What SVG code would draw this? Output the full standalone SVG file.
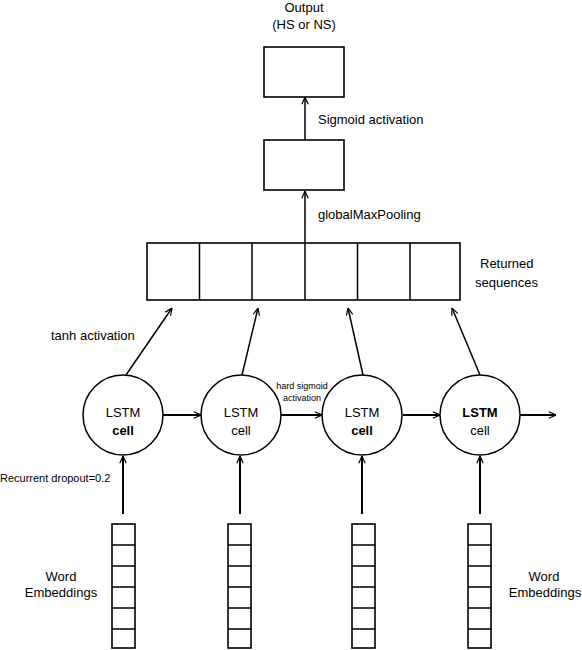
<svg xmlns="http://www.w3.org/2000/svg" width="582" height="650" viewBox="0 0 582 650">
<defs>
<marker id="ah" viewBox="0 0 10 10" refX="10" refY="5" markerWidth="8" markerHeight="8" markerUnits="userSpaceOnUse" orient="auto">
<path d="M1,1 L10,5 L1,9" fill="none" stroke="#000" stroke-width="1.5"/>
</marker>
</defs>
<style>
text{font-family:"Liberation Sans",Arial,sans-serif;font-size:13px;fill:#000}
.c{text-anchor:middle}
.box{fill:#fff;stroke:#000;stroke-width:1.6}
.cell{fill:#fff;stroke:#000;stroke-width:1.5}
.ln{stroke:#000;stroke-width:1.5;fill:none}
.thick{stroke:#000;stroke-width:2;fill:none}
</style>
<rect width="582" height="650" fill="#fff"/>

<g id="connectors">
<line class="ln" x1="305" y1="243" x2="305" y2="191" marker-end="url(#ah)"/>
<line class="ln" x1="305" y1="140" x2="305" y2="97" marker-end="url(#ah)"/>
<line class="ln" x1="126" y1="375" x2="172" y2="308" marker-end="url(#ah)"/>
<line class="ln" x1="242" y1="375" x2="258" y2="308" marker-end="url(#ah)"/>
<line class="ln" x1="363" y1="375" x2="348" y2="308" marker-end="url(#ah)"/>
<line class="ln" x1="480" y1="375" x2="452" y2="308" marker-end="url(#ah)"/>
<line class="thick" x1="163" y1="415" x2="201" y2="415" marker-end="url(#ah)"/>
<line class="thick" x1="281" y1="415" x2="322" y2="415" marker-end="url(#ah)"/>
<line class="thick" x1="403" y1="415" x2="440" y2="415" marker-end="url(#ah)"/>
<line class="thick" x1="520" y1="415" x2="556" y2="415" marker-end="url(#ah)"/>
<line class="thick" x1="123" y1="514" x2="123" y2="456" marker-end="url(#ah)"/>
<line class="thick" x1="240" y1="514" x2="240" y2="456" marker-end="url(#ah)"/>
<line class="thick" x1="362" y1="514" x2="362" y2="456" marker-end="url(#ah)"/>
<line class="thick" x1="480" y1="514" x2="480" y2="456" marker-end="url(#ah)"/>
</g>

<g id="output">
<rect class="box" x="264" y="47" width="80" height="50"/>
<text class="c" x="304" y="12">Output</text>
<text class="c" x="304" y="29">(HS or NS)</text>
</g>
<g id="pool">
<rect class="box" x="264" y="140" width="80" height="50"/>
</g>
<text x="318" y="124">Sigmoid activation</text>
<text x="318" y="219">globalMaxPooling</text>

<g id="returned">
<rect class="box" x="147" y="243" width="313" height="57"/>
<path class="ln" d="M199.5,243V300M252,243V300M305,243V300M357.5,243V300M410,243V300"/>
<text x="480" y="268">Returned</text>
<text x="475" y="287">sequences</text>
</g>

<g id="lstm1">
<circle class="cell" cx="123" cy="415" r="40"/>
<text class="c" x="123" y="417">LSTM</text>
<text class="c" x="123" y="435" font-weight="bold">cell</text>
</g>
<g id="lstm2">
<circle class="cell" cx="241" cy="415" r="40"/>
<text class="c" x="241" y="417">LSTM</text>
<text class="c" x="241" y="435">cell</text>
</g>
<g id="lstm3">
<circle class="cell" cx="362" cy="415" r="40"/>
<text class="c" x="362" y="417">LSTM</text>
<text class="c" x="362" y="435" font-weight="bold">cell</text>
</g>
<g id="lstm4">
<circle class="cell" cx="480" cy="415" r="40"/>
<text class="c" x="480" y="417" font-weight="bold">LSTM</text>
<text class="c" x="480" y="435">cell</text>
</g>

<text x="51" y="340">tanh activation</text>
<text x="0" y="482" font-size="11" style="font-size:11px">Recurrent dropout=0.2</text>
<text class="c" x="302" y="389" style="font-size:9px">hard sigmoid</text>
<text class="c" x="302" y="401" style="font-size:9px">activation</text>

<g id="emb1">
<rect class="box" x="112" y="524" width="23" height="124"/>
<path class="ln" d="M112,545H135M112,566H135M112,587H135M112,608H135M112,629H135"/>
</g>
<g id="emb2">
<rect class="box" x="228" y="524" width="23" height="124"/>
<path class="ln" d="M228,545H251M228,566H251M228,587H251M228,608H251M228,629H251"/>
</g>
<g id="emb3">
<rect class="box" x="352" y="524" width="23" height="124"/>
<path class="ln" d="M352,545H375M352,566H375M352,587H375M352,608H375M352,629H375"/>
</g>
<g id="emb4">
<rect class="box" x="468" y="524" width="23" height="124"/>
<path class="ln" d="M468,545H491M468,566H491M468,587H491M468,608H491M468,629H491"/>
</g>

<text class="c" x="61" y="581">Word</text>
<text class="c" x="61" y="597">Embeddings</text>
<text class="c" x="544" y="581">Word</text>
<text class="c" x="545" y="597">Embeddings</text>
</svg>
